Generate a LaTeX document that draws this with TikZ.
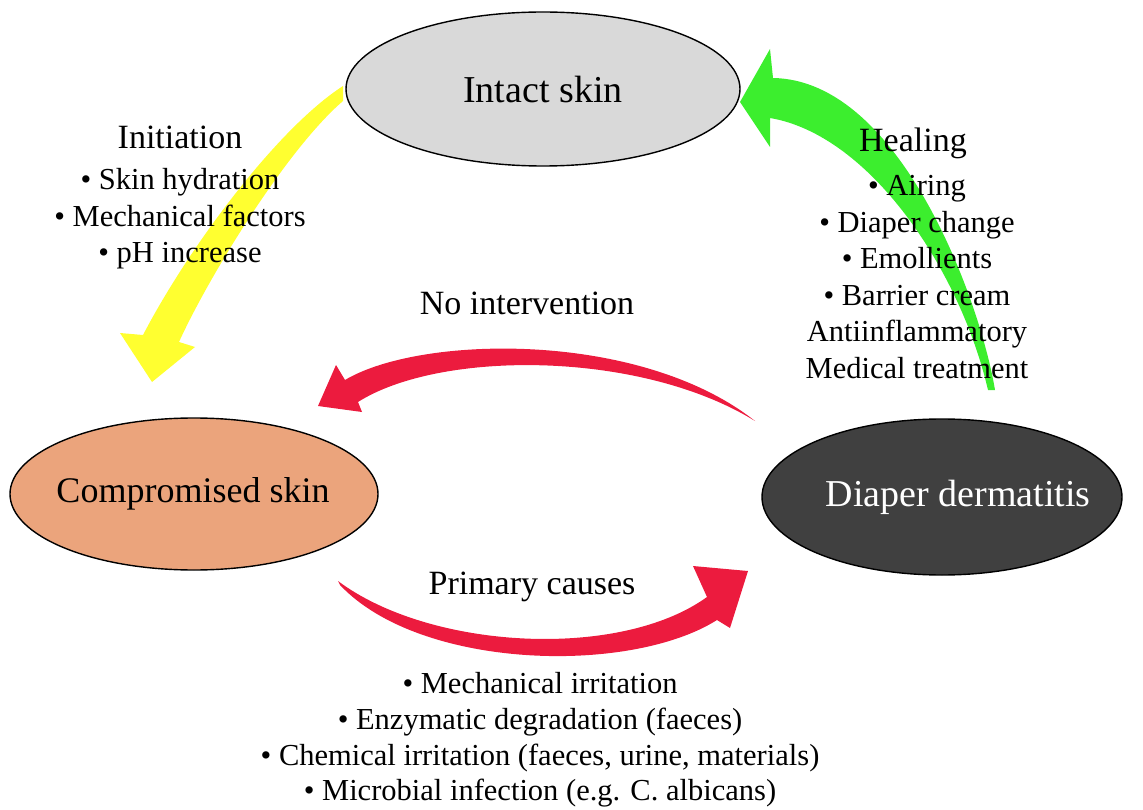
\documentclass[tikz,border=0pt]{standalone}
\usepackage{fontspec}
\setmainfont{Liberation Serif}
\usetikzlibrary{shapes.geometric}
\definecolor{ayellow}{HTML}{FFFF30}
\definecolor{agreen}{HTML}{3CEE2E}
\definecolor{ared}{HTML}{EC1B3E}
\definecolor{intactfill}{HTML}{D9D9D9}
\definecolor{compfill}{HTML}{EBA47C}
\definecolor{dermfill}{HTML}{404040}
\begin{document}
\begin{tikzpicture}[x=1pt,y=-1pt,
  state/.style={ellipse, draw=black, line width=1.4pt, inner sep=0pt},
  bigtxt/.style={font=\fontsize{38}{44}\selectfont},
  headtxt/.style={font=\fontsize{34}{40}\selectfont},
  listtxt/.style={font=\fontsize{30.5}{36.6}\selectfont, align=center}]
\useasboundingbox (0,0) rectangle (1143,810);

% arrows (drawn first, text on top)
\fill[ayellow] (343,86) .. controls (278,128) and (190,245) .. (143,335)
  -- (120,333) -- (152,382) -- (195,347) -- (179,342)
  .. controls (208,278) and (286,150) .. (343,101) -- cycle;
\fill[agreen] (995,390) .. controls (980,300) and (900,80) .. (773,78)
  -- (770,49) -- (740,102) -- (770,147) -- (770,118)
  .. controls (870,135) and (960,270) .. (988,390) -- cycle;
\fill[ared] (345,380) .. controls (420,335) and (640,330) .. (755,421)
  .. controls (640,350) and (440,350) .. (358,402)
  -- (362,412) -- (318,406) -- (336,365) -- cycle;
\fill[ared] (338,581) .. controls (430,650) and (620,660) .. (707,597)
  -- (693,566) -- (748,571) -- (730,628) -- (717,620)
  .. controls (630,675) and (420,670) .. (340,585) -- cycle;

% states
\node[state, fill=intactfill, minimum width=394pt, minimum height=154pt] (intact) at (543,89) {};
\node[bigtxt] (intactlbl) at (543,90) {Intact skin};
\node[state, fill=compfill, minimum width=368pt, minimum height=152pt] (comp) at (194,494) {};
\node[bigtxt, font=\fontsize{36}{42}\selectfont] (complbl) at (193,494) {Compromised skin};
\node[state, fill=dermfill, minimum width=360pt, minimum height=156pt] (derm) at (942,497) {};
\node[bigtxt, text=white] (dermlbl) at (958,497) {Diaper dermatitis};

% labels
\node[headtxt] (init) at (180,137) {Initiation};
\node[listtxt] (initlist) at (180,219) {• Skin hydration\\• Mechanical factors\\• pH increase};
\node[headtxt] (heal) at (913,143) {Healing};
\node[listtxt] (heallist) at (917,277) {• Airing\\• Diaper change\\• Emollients\\• Barrier cream\\Antiinflammatory\\Medical treatment};
\node[headtxt] (noint) at (527,303) {No intervention};
\node[headtxt] (prim) at (532,587) {Primary causes};
\node[listtxt, font=\fontsize{30.5}{35.7}\selectfont] (primlist) at (540,740) {• Mechanical irritation\\• Enzymatic degradation (faeces)\\• Chemical irritation (faeces, urine, materials)\\• Microbial infection (e.g. C. albicans)};
\end{tikzpicture}
\end{document}
